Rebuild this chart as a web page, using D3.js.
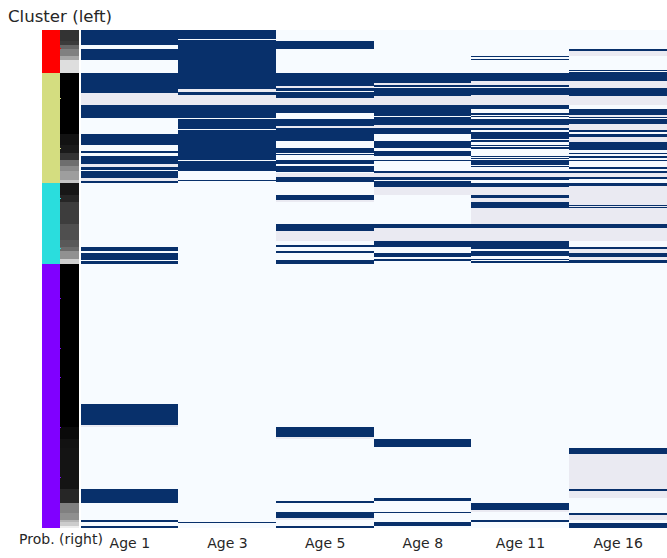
<!DOCTYPE html>
<html>
<head>
<meta charset="utf-8">
<style>
    body { margin: 0; background: #fff; }
    text { font-family: "DejaVu Sans", sans-serif; fill: #262626; }
</style>
<script src="https://cdn.jsdelivr.net/npm/d3@7"></script>
</head>
<body>
<svg></svg>
<script>
const ages = ["Age 1", "Age 3", "Age 5", "Age 8", "Age 11", "Age 16"]
const rowCount = 498

// rows (from, to) that are 1 in each age column
const age1On = [[0,15],[19,30],[43,63],[75,88],[104,115],[121,123],[126,134],[137,140],[141,148],[151,153],[217,221],[223,230],[231,234],[374,395],[459,473],[490,492],[496,498]]
const age3On = [[0,9],[10,59],[62,65],[75,88],[89,99],[100,130],[131,141],[150,151],[492,493]]
const age5On = [[11,19],[43,56],[58,61],[62,68],[75,83],[89,96],[98,111],[118,123],[124,125],[130,134],[136,142],[147,152],[165,170],[194,201],[215,217],[221,223],[230,234],[397,407],[471,473],[482,488],[496,498]]
const age8On = [[43,53],[55,57],[58,66],[75,86],[87,95],[98,104],[111,118],[121,126],[130,131],[141,143],[147,150],[151,157],[194,198],[211,217],[223,227],[229,231],[409,417],[468,471],[482,483],[492,496]]
const age11On = [[26,27],[29,30],[43,51],[55,57],[58,65],[75,79],[83,85],[86,87],[89,95],[98,100],[102,109],[110,112],[115,116],[117,119],[126,127],[128,129],[130,135],[136,137],[141,143],[147,150],[153,157],[165,168],[172,178],[194,198],[211,219],[221,226],[229,230],[231,233],[473,480],[490,492]]
const age16On = [[19,21],[40,41],[42,51],[58,66],[79,85],[87,88],[89,94],[100,102],[104,107],[112,120],[123,124],[126,128],[130,131],[137,139],[141,143],[147,149],[153,156],[175,176],[177,178],[194,198],[217,219],[223,227],[230,233],[418,424],[459,461],[483,485],[493,498]]

// rows with missing values
const age1Missing = [[63,75],[134,137],[148,151],[395,397]]
const age3Missing = [[59,62],[65,75]]
const age5Missing = [[56,58],[68,75],[96,98],[143,147],[170,172],[201,211],[407,409],[488,490]]
const age8Missing = [[53,55],[66,75],[95,98],[143,147],[157,165],[198,211]]
const age11Missing = [[51,55],[65,75],[95,98],[143,147],[157,165],[168,172],[178,194],[198,211],[480,482]]
const age16Missing = [[21,26],[51,58],[66,75],[85,87],[94,100],[107,112],[143,147],[156,175],[176,177],[178,194],[198,211],[219,223],[227,230],[424,459],[461,468],[485,490]]

const onByAge = [age1On, age3On, age5On, age8On, age11On, age16On]
const missingByAge = [age1Missing, age3Missing, age5Missing, age8Missing, age11Missing, age16Missing]

const clusterSizes = [43, 110, 81, 264]
const clusterColors = ["#ff0000", "#d4dd80", "#2adddd", "#8000ff"]

// class membership probability, sorted inside each cluster
const probEnds = [11,15,19,26,30,43,104,115,123,130,136,141,150,153,165,172,194,210,217,221,229,234,397,409,418,459,473,483,490,492,496,498]
const probValues = [.2,.23,.4,.5,.65,.87,0,.07,.1,.2,.43,.54,.62,.78,.09,.15,.24,.31,.35,.42,.57,.81,0,.04,.07,.08,.15,.5,.56,.71,.8,.93]

// the row ticks that show through as one pixel of cluster colour
const clusterTicks = [18, 68, 118, 168, 218, 268, 318, 347, 397, 447]

let svgWidth = 667, svgHeight = 558

let svg = d3.select('svg')
    .attr("width", svgWidth)
    .attr("height", svgHeight)
    .style("display", "block")

let x = d3.scaleBand().domain(ages).range([81, 667])
let y = d3.scaleLinear().domain([0, rowCount]).range([30, 528])
let gray = d3.scaleLinear().domain([0, 1]).range(["#000", "#fff"])

svg.append("rect")
    .attr("x", x.range()[0])
    .attr("y", y(0))
    .attr("width", x.range()[1] - x.range()[0])
    .attr("height", y(rowCount) - y(0))
    .attr("fill", "#f7fbff")

function drawRuns(runs, age, color) {
    let left = Math.floor(x(age))
    let right = Math.floor(x(age) + x.bandwidth())
    svg.append("g").selectAll("rect")
        .data(runs)
        .enter()
        .append("rect")
        .attr("x", left)
        .attr("width", right - left)
        .attr("y", d => y(d[0]))
        .attr("height", d => y(d[1]) - y(d[0]))
        .attr("fill", color)
        .attr("shape-rendering", "crispEdges")
}

ages.forEach(function(age, i) {
    drawRuns(missingByAge[i], age, "#eaeaf2")
    drawRuns(onByAge[i], age, "#08306b")
})

// cluster strip
let clusterStarts = clusterSizes.map((d, i) => d3.sum(clusterSizes.slice(0, i)))
svg.append("g").selectAll("rect")
    .data(clusterSizes)
    .enter()
    .append("rect")
    .attr("x", 42)
    .attr("width", 18)
    .attr("y", (d, i) => y(clusterStarts[i]))
    .attr("height", d => y(d) - y(0))
    .attr("fill", (d, i) => clusterColors[i])
    .attr("shape-rendering", "crispEdges")

// probability strip
svg.append("g").selectAll("rect")
    .data(probValues)
    .enter()
    .append("rect")
    .attr("x", 60)
    .attr("width", 19)
    .attr("y", (d, i) => y(i ? probEnds[i - 1] : 0))
    .attr("height", (d, i) => y(probEnds[i]) - y(i ? probEnds[i - 1] : 0))
    .attr("fill", d => gray(d))
    .attr("shape-rendering", "crispEdges")

svg.append("g").selectAll("rect")
    .data(clusterTicks)
    .enter()
    .append("rect")
    .attr("x", 60)
    .attr("width", 1)
    .attr("y", d => y(d))
    .attr("height", 1)
    .attr("fill", d => clusterColors[d3.bisectRight(clusterStarts, d) - 1])

// age labels
let axis = d3.axisBottom(x).tickSize(0).tickPadding(0)
let axisG = svg.append("g")
    .attr("transform", "translate(0,538)")
    .call(axis)
axisG.select(".domain").remove()
axisG.selectAll("text")
    .attr("font-size", 14)
    .style("font-family", '"DejaVu Sans", sans-serif')
    .style("fill", "#262626")

svg.append("text")
    .text("Cluster (left)")
    .attr("x", 8)
    .attr("y", 22)
    .attr("font-size", 16.6)

svg.append("text")
    .text("Prob. (right)")
    .attr("x", 61)
    .attr("y", 544)
    .attr("text-anchor", "middle")
    .attr("font-size", 14)
</script>
</body>
</html>
